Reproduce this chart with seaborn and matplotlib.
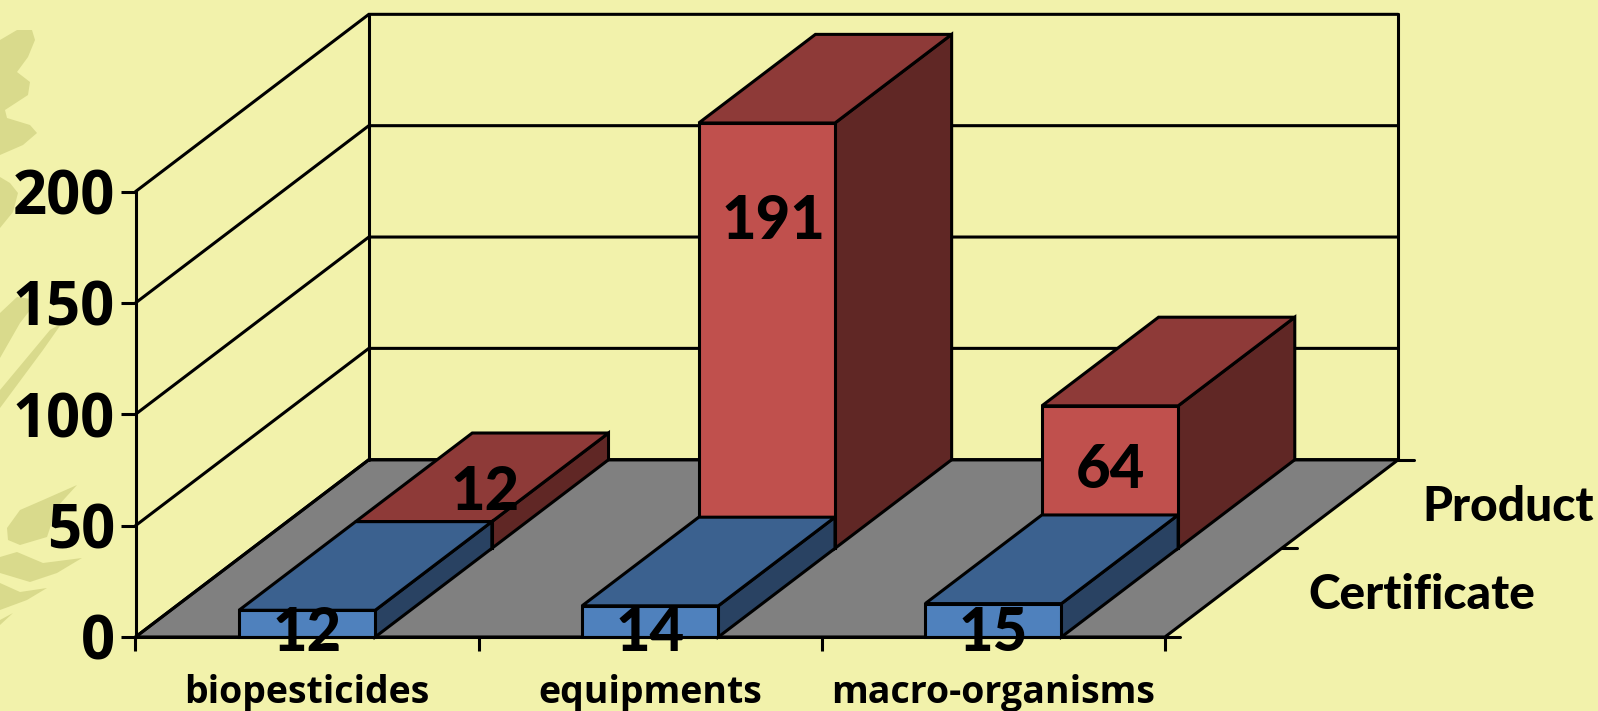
import pandas as pd
import seaborn as sns
import matplotlib.pyplot as plt
from matplotlib.patches import Polygon
from matplotlib.transforms import Affine2D

# Values
categories = ['biopesticides', 'equipments', 'macro-organisms']
certificate = [12, 14, 15]
product = [12, 191, 64]
y_ticks = [0, 50, 100, 150, 200]
depth_names = ['Certificate', 'Product']

# Where the value labels sit (data coords), the original places them by hand
certificate_label_y = [2, 2, 2]
product_label_dx = [0.18, 0.02, 0.0]
product_label_y = [65, 187, 75]

# Oblique projection of the depth axis, in data units
DEPTH_X = 0.68
DEPTH_Y = 79.6
BAR_WIDTH = 0.397

BG = '#F2F2AB'
LEAF = '#D9DA8C'
LW = 2.2

sns.set_theme(style='white')
plt.rcParams['font.family'] = ['Lato', 'DejaVu Sans']

W, H = 1598, 711
fig = plt.figure(figsize=(W / 100, H / 100), dpi=100, facecolor=BG)
ax = fig.add_axes([135.5 / W, 1 - 637 / H, 1029.4 / W, 445.4 / H])
ax.patch.set_visible(False)

# Faint leaves of the slide background, in pixels from the top left
px = Affine2D().scale(1, -1).translate(0, H)
leaves = [
    [(0, 40), (17, 30), (32, 30), (35, 40), (28, 57), (17, 72), (30, 82), (28, 95), (5, 110),
     (7, 118), (30, 125), (37, 133), (23, 145), (0, 155)],
    [(0, 177), (10, 183), (18, 193), (13, 212), (0, 228)],
    [(0, 313), (17, 297), (38, 300), (20, 323), (0, 358)],
    [(0, 390), (50, 330), (62, 323), (43, 350), (0, 408)],
    [(7, 528), (20, 510), (43, 500), (77, 485), (57, 507), (47, 537), (20, 545), (8, 540)],
    [(0, 557), (17, 552), (43, 563), (82, 558), (57, 573), (30, 582), (0, 573)],
    [(0, 583), (20, 592), (47, 588), (27, 600), (0, 610)],
    [(0, 620), (13, 613), (0, 625)],
]
for pts in leaves:
    fig.add_artist(Polygon(pts, closed=True, color=LEAF, lw=0, transform=px, zorder=-1))

df = pd.DataFrame({'category': categories, 'Certificate': certificate, 'Product': product})


def draw_series(name, face, top, side, depth_start, zorder):
    before = len(ax.patches)
    sns.barplot(data=df, x='category', y=name, ax=ax, color=face, saturation=1,
                width=BAR_WIDTH, edgecolor='black', linewidth=LW)
    for bar in list(ax.patches[before:]):
        x = bar.get_x() + DEPTH_X * depth_start
        y = DEPTH_Y * depth_start
        w, h = bar.get_width(), bar.get_height()
        bar.set_x(x)
        bar.set_y(y)
        bar.set_zorder(zorder + 0.2)
        bar.set_clip_on(False)
        dx, dy = DEPTH_X / 2, DEPTH_Y / 2
        ax.add_patch(Polygon([(x + w, y), (x + w + dx, y + dy), (x + w + dx, y + h + dy), (x + w, y + h)],
                             fc=side, ec='black', lw=LW, zorder=zorder, clip_on=False))
        ax.add_patch(Polygon([(x, y + h), (x + w, y + h), (x + w + dx, y + h + dy), (x + dx, y + h + dy)],
                             fc=top, ec='black', lw=LW, zorder=zorder, clip_on=False))


# Product sits in the back row, Certificate in the front row
draw_series('Product', '#C0504D', '#8E3A38', '#602725', 0.5, 3)
draw_series('Certificate', '#4F81BD', '#3B618F', '#294262', 0.0, 4)

ax.set_xlim(-0.5, 2.5)
ax.set_ylim(0, 200)
ax.set_xlabel('')
ax.set_ylabel('')

# Floor and walls
ax.add_patch(Polygon([(-0.5, 0), (2.5, 0), (2.5 + DEPTH_X, DEPTH_Y), (-0.5 + DEPTH_X, DEPTH_Y)],
                     fc='#808080', ec='black', lw=LW, zorder=1, clip_on=False))
for v in y_ticks:
    ax.plot([-0.5, -0.5 + DEPTH_X, 2.5 + DEPTH_X], [v, v + DEPTH_Y, v + DEPTH_Y],
            color='black', lw=LW, zorder=1.5, clip_on=False, solid_joinstyle='miter')
for xb in [-0.5 + DEPTH_X, 2.5 + DEPTH_X]:
    ax.plot([xb, xb], [DEPTH_Y, 200 + DEPTH_Y], color='black', lw=LW, zorder=1.5, clip_on=False)

# Depth axis ticks
for f in [0, 0.5, 1]:
    ax.plot([2.5 + DEPTH_X * f, 2.5 + DEPTH_X * f + 0.045], [DEPTH_Y * f, DEPTH_Y * f],
            color='black', lw=LW, zorder=1, clip_on=False)

# Axes
sns.despine(ax=ax, top=True, right=True)
for s in ['left', 'bottom']:
    ax.spines[s].set_color('black')
    ax.spines[s].set_linewidth(LW)
    ax.spines[s].set_zorder(5)
ax.set_yticks(y_ticks)
ax.set_yticklabels(y_ticks, fontsize=43, fontweight='bold', color='black', family='Open Sans')
ax.tick_params(axis='y', left=True, length=10.8, width=LW, color='black', pad=4)
ax.set_xticks([-0.5, 0.5, 1.5, 2.5])
ax.set_xticklabels([])
ax.tick_params(axis='x', bottom=True, length=10, width=LW, color='black')
ax.set_xticks([0, 1, 2], minor=True)
ax.set_xticklabels(categories, minor=True, fontsize=27, fontweight='bold', color='black', family='Open Sans')
ax.tick_params(axis='x', which='minor', bottom=False, length=0, pad=26.5)

# Value labels
for i, v in enumerate(certificate):
    ax.text(i, certificate_label_y[i], str(v), ha='center', va='center',
            fontsize=43, fontweight='black', color='black', zorder=6, clip_on=False)
for i, v in enumerate(product):
    ax.text(i + DEPTH_X / 2 + product_label_dx[i], product_label_y[i], str(v), ha='center', va='center',
            fontsize=43, fontweight='black', color='black', zorder=6, clip_on=False)

# Depth axis labels
for f, name, off in zip([0.25, 0.75], depth_names, [0.58, 0.49]):
    ax.text(2.5 + DEPTH_X * f + off, DEPTH_Y * f - 1.2, name, ha='center', va='center',
            fontsize=34.5, fontweight='black', color='black', clip_on=False)

plt.savefig('out.png', dpi=100, facecolor=BG)
